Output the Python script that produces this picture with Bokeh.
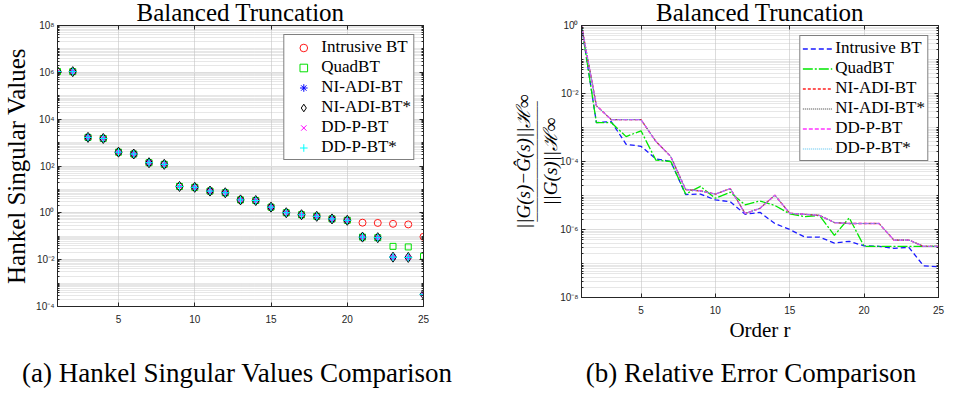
import numpy as np
from bokeh.plotting import figure
from bokeh.layouts import row, column
from bokeh.models import (FixedTicker, CustomJSTickFormatter, Title, Range1d, Div,
                          LogAxis, LinearAxis)
from bokeh.embed import file_html
from bokeh.resources import INLINE

# ---------------- data ----------------
order = list(range(1, 26))

# (a) Hankel singular values
hsv_intrusive_bt = [1.08e6, 1.07e6, 1.67e3, 1.5e3, 390, 325, 138, 118, 13.4, 12.3, 8.5, 7.2,
                    3.57, 3.35, 1.75, 1.01, 0.83, 0.71, 0.55, 0.48, 0.38, 0.37, 0.34, 0.32, 0.095]
hsv_quadbt = [1.08e6, 1.07e6, 1.67e3, 1.5e3, 390, 325, 138, 118, 13.4, 12.3, 8.5, 7.2,
              3.57, 3.35, 1.75, 1.01, 0.83, 0.71, 0.55, 0.48, 0.092, 0.087, 0.037, 0.035, 0.014]
hsv_ni_adi_bt = [1.08e6, 1.07e6, 1.67e3, 1.5e3, 390, 325, 138, 118, 13.4, 12.3, 8.5, 7.2,
                 3.57, 3.35, 1.75, 1.01, 0.83, 0.71, 0.55, 0.48, 0.092, 0.087, 0.0128, 0.0125, 3.3e-4]
hsv_ni_adi_bt_star = [1.08e6, 1.07e6, 1.67e3, 1.5e3, 390, 325, 138, 118, 13.4, 12.3, 8.5, 7.2,
                      3.57, 3.35, 1.75, 1.01, 0.83, 0.71, 0.55, 0.48, 0.092, 0.087, 0.0128, 0.0125, 3.3e-4]
hsv_dd_p_bt = [1.08e6, 1.07e6, 1.67e3, 1.5e3, 390, 325, 138, 118, 13.4, 12.3, 8.5, 7.2,
               3.57, 3.35, 1.75, 1.01, 0.83, 0.71, 0.55, 0.48, 0.092, 0.087, 0.0128, 0.0125, 3.3e-4]
hsv_dd_p_bt_star = [1.08e6, 1.07e6, 1.67e3, 1.5e3, 390, 325, 138, 118, 13.4, 12.3, 8.5, 7.2,
                    3.57, 3.35, 1.75, 1.01, 0.83, 0.71, 0.55, 0.48, 0.092, 0.087, 0.0128, 0.0125, 3.3e-4]

# (b) relative H-infinity errors
err_intrusive_bt = [1.0, 1.4e-3, 1.5e-3, 3.2e-4, 2.8e-4, 1.2e-4, 1.0e-4, 1.07e-5, 1.1e-5, 7.4e-6,
                    6.6e-6, 2.8e-6, 3.2e-6, 1.5e-6, 1.0e-6, 6.0e-7, 6.0e-7, 4.0e-7, 4.5e-7, 3.3e-7,
                    3.2e-7, 2.8e-7, 3.0e-7, 8.5e-8, 8.0e-8]
err_quadbt = [1.0, 1.4e-3, 1.4e-3, 5.4e-4, 8.0e-4, 1.1e-4, 1.0e-4, 1.1e-5, 1.86e-5, 8.3e-6,
              1.25e-5, 5.3e-6, 6.9e-6, 5.1e-6, 2.9e-6, 2.4e-6, 2.6e-6, 6.7e-7, 2.2e-6, 3.2e-7,
              3.2e-7, 3.2e-7, 3.2e-7, 3.2e-7, 3.2e-7]
err_ni_adi_bt = [1.0, 4.4e-3, 1.7e-3, 1.7e-3, 1.7e-3, 3.9e-4, 1.4e-4, 1.5e-5, 1.36e-5, 1.1e-5,
                 1.6e-5, 2.95e-6, 4.2e-6, 1.02e-5, 3.0e-6, 2.8e-6, 2.6e-6, 1.6e-6, 1.5e-6, 1.5e-6,
                 1.5e-6, 4.9e-7, 4.9e-7, 3.2e-7, 3.2e-7]
err_ni_adi_bt_star = list(err_ni_adi_bt)
err_dd_p_bt = list(err_ni_adi_bt)
err_dd_p_bt_star = list(err_ni_adi_bt)

x_ticks = [5, 10, 15, 20, 25]

# ---------------- helpers ----------------
AX = "#262626"
SANS = "Liberation Sans"
SERIF = "Liberation Serif"

fmt_code = """
const e = Math.round(Math.log10(tick));
const m = {'-':'\u207b','0':'\u2070','1':'\u00b9','2':'\u00b2','3':'\u00b3','4':'\u2074',
           '5':'\u2075','6':'\u2076','7':'\u2077','8':'\u2078','9':'\u2079'};
return '10' + String(e).split('').map(c => m[c]).join('');
"""


def log_ticker(lo, hi, step):
    majors = [10.0 ** k for k in range(lo, hi + 1, step)]
    minors = []
    for k in range(lo, hi):
        for m in range(1, 10):
            if m == 1 and (k - lo) % step == 0:
                continue
            minors.append(m * 10.0 ** k)
    return FixedTicker(ticks=majors, minor_ticks=minors)


def box_axis(ax):
    ax.axis_line_color = AX
    ax.major_tick_line_color = AX
    ax.minor_tick_line_color = AX
    ax.major_tick_in = 4
    ax.major_tick_out = 0
    ax.minor_tick_in = 2
    ax.minor_tick_out = 0


def style(p, yt, xt):
    """Style the primary axes and add unlabeled box axes; returns (bottom_axis, left_axis)."""
    p.background_fill_color = "white"
    p.border_fill_color = "white"
    p.outline_line_color = AX
    p.outline_line_width = 1
    p.outline_line_alpha = 1
    yax = p.left[0]
    yax.ticker = yt
    yax.formatter = CustomJSTickFormatter(code=fmt_code)
    xax = p.below[0]
    xax.ticker = xt
    for ax in (xax, yax):
        box_axis(ax)
        ax.major_label_text_font = SANS
        ax.major_label_text_font_size = "10px"
        ax.major_label_text_color = AX
    xax.major_label_standoff = 8
    yax.major_label_standoff = 3
    p.xgrid.grid_line_color = "#dcdcdc"
    p.ygrid.grid_line_color = "#dcdcdc"
    p.ygrid.minor_grid_line_color = "#c4c4c4"
    p.ygrid.minor_grid_line_dash = "1 1"
    p.ygrid.minor_grid_line_alpha = 0.8
    # inward ticks on the right and top edges of the box (no labels)
    ra = LogAxis(ticker=yt, major_label_text_font_size="1px", major_label_text_color=None,
                 major_label_standoff=0)
    box_axis(ra)
    p.add_layout(ra, "right")
    ta = LinearAxis(ticker=xt, major_label_text_font_size="1px", major_label_text_color=None,
                    major_label_standoff=0)
    box_axis(ta)
    p.add_layout(ta, "above")
    return xax, yax


def set_title(p, text):
    p.title.text = text
    p.title.align = "center"
    p.title.text_font = SERIF
    p.title.text_font_size = "25px"
    p.title.text_font_style = "normal"
    p.title.text_color = "black"
    p.title.standoff = 0


def add_title(p, text, place, size, style_="normal", standoff=0, offset=0, font=SERIF):
    p.add_layout(Title(text=text, align="center", text_font=font, text_font_size=size,
                       text_font_style=style_, text_color="black", standoff=standoff,
                       offset=offset), place)


def style_legend(lg, glyph_width, standoff):
    lg.location = "top_right"
    lg.margin = 10
    lg.padding = 2
    lg.spacing = 0
    lg.glyph_width = glyph_width
    lg.glyph_height = 19
    lg.label_height = 19
    lg.label_standoff = standoff
    lg.label_text_font = SERIF
    lg.label_text_font_size = "17px"
    lg.label_text_color = "black"
    lg.border_line_color = "black"
    lg.border_line_width = 1
    lg.background_fill_color = "white"
    lg.background_fill_alpha = 1


def caption(text, width, shift):
    html = ("<div style=\"width:%dpx; text-align:center; font-family:'Liberation Serif', serif; "
            "font-size:27px; line-height:30px; color:black; padding-top:14px; "
            "transform:translateX(%dpx); white-space:nowrap;\">%s</div>") % (width, shift, text)
    return Div(text=html, width=width, height=47, margin=0)


FIG_H = 348

# ---------------- (a) Hankel singular values ----------------
p1 = figure(width=472, height=FIG_H, y_axis_type="log", x_range=Range1d(1, 25),
            y_range=Range1d(1e-4, 1e8), output_backend="svg", toolbar_location=None,
            min_border_left=55, min_border_right=49, min_border_top=0, min_border_bottom=38)
x1, y1 = style(p1, log_ticker(-4, 8, 2), FixedTicker(ticks=x_ticks, minor_ticks=[]))
set_title(p1, "Balanced Truncation")

p1.scatter(order, hsv_intrusive_bt, marker="circle", size=7, fill_color=None,
           line_color="#ff1a1a", line_width=1, legend_label="Intrusive BT")
p1.scatter(order, hsv_quadbt, marker="square", size=6, fill_color=None,
           line_color="#00e000", line_width=1, legend_label="QuadBT")
p1.scatter(order, hsv_ni_adi_bt, marker="asterisk", size=7, fill_color=None,
           line_color="#0000ff", line_width=1, legend_label="NI-ADI-BT")
p1.scatter(order, hsv_ni_adi_bt_star, marker="diamond", size=10, fill_color=None,
           line_color="black", line_width=1, legend_label="NI-ADI-BT*")
p1.scatter(order, hsv_dd_p_bt, marker="x", size=6, fill_color=None,
           line_color="#ff00ff", line_width=1, legend_label="DD-P-BT")
p1.scatter(order, hsv_dd_p_bt_star, marker="cross", size=8, fill_color=None,
           line_color="#00ffff", line_width=1, legend_label="DD-P-BT*")

y1.axis_label = "Hankel Singular Values"
y1.axis_label_text_font = SERIF
y1.axis_label_text_font_size = "25px"
y1.axis_label_text_font_style = "normal"
y1.axis_label_text_color = "black"
y1.axis_label_standoff = 3

style_legend(p1.legend[0], 34, 1)
p1.legend[0].margin = 9

# ---------------- (b) relative error ----------------
p2 = figure(width=474, height=FIG_H, y_axis_type="log", x_range=Range1d(1, 25),
            y_range=Range1d(1e-8, 1), output_backend="svg", toolbar_location=None,
            min_border_left=109, min_border_right=8, min_border_top=0, min_border_bottom=45)
x2, y2 = style(p2, log_ticker(-8, 0, 2), FixedTicker(ticks=x_ticks, minor_ticks=[]))
set_title(p2, "Balanced Truncation")

p2.line(order, err_intrusive_bt, line_color="#1a1aff", line_width=1.3, line_dash="5 3",
        legend_label="Intrusive BT")
p2.line(order, err_quadbt, line_color="#00e600", line_width=1.3, line_dash="10 2 2 2",
        legend_label="QuadBT")
p2.line(order, err_ni_adi_bt, line_color="#ff2020", line_width=1.3, line_dash="3 2",
        legend_label="NI-ADI-BT")
p2.line(order, err_ni_adi_bt_star, line_color="black", line_width=0.8, line_dash="1 1",
        legend_label="NI-ADI-BT*")
p2.line(order, err_dd_p_bt, line_color="#ff33ff", line_width=1.3, line_dash="4 2",
        legend_label="DD-P-BT")
p2.line(order, err_dd_p_bt_star, line_color="#4dbeee", line_width=1.0, line_dash="1 1",
        legend_label="DD-P-BT*")

x2.axis_label = "Order r"
x2.axis_label_text_font = SERIF
x2.axis_label_text_font_size = "21px"
x2.axis_label_text_font_style = "normal"
x2.axis_label_text_color = "black"
x2.axis_label_standoff = 1

style_legend(p2.legend[0], 30, 3)

# y-label written as a fraction: denominator (next to axis), bar, numerator
add_title(p2, "||G(s)||\u210b\u221e", "left", "19px", style_="italic", standoff=-6)
add_title(p2, "\u2500" * 25, "left", "8px", standoff=-3, offset=8, font="DejaVu Sans Mono")
add_title(p2, "||G(s)\u2212\u011c(s)||\u210b\u221e", "left", "19px", style_="italic",
          standoff=-3, offset=8)

cap_a = caption("(a) Hankel Singular Values Comparison", 472, 1)
cap_b = caption("(b) Relative Error Comparison", 474, 42)

layout = row(column(p1, cap_a, spacing=0), column(p2, cap_b, spacing=0),
             spacing=0, margin=(-4, 0, 0, 0))
open("out.html", "w").write(file_html(layout, INLINE))
